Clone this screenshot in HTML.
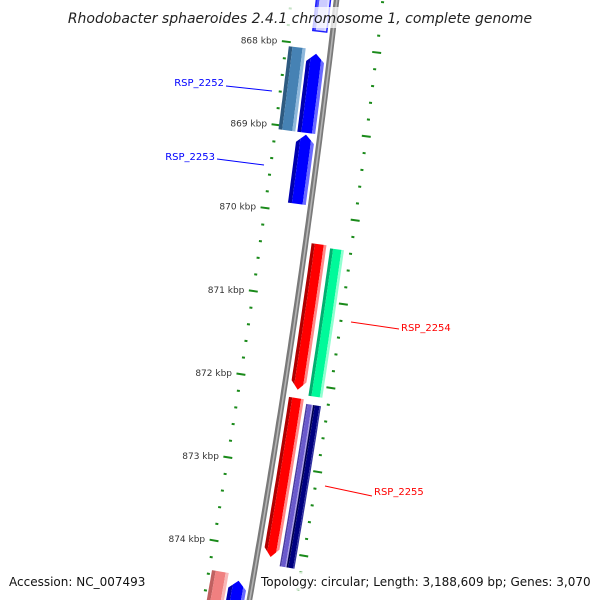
<!DOCTYPE html>
<html><head><meta charset="utf-8"><style>
html,body{margin:0;padding:0;background:#fff;width:600px;height:600px;overflow:hidden;}
svg{display:block;font-family:"DejaVu Sans","Liberation Sans",sans-serif;overflow:hidden;}
</style></head><body>
<svg id="map" width="600" height="600" viewBox="0 0 600 600" xmlns="http://www.w3.org/2000/svg">
<g id="layer"></g>
<rect x="70" y="7" width="460" height="21" fill="#fff" fill-opacity="0.75"/>
<text x="300" y="23" text-anchor="middle" font-size="14" font-style="italic" fill="#222">Rhodobacter sphaeroides 2.4.1 chromosome 1, complete genome</text>
<rect x="258" y="572" width="338" height="18" fill="#fff" fill-opacity="0.8"/>
<text x="9" y="586" font-size="12" fill="#111">Accession: NC_007493</text>
<text x="261" y="586" font-size="12" fill="#111">Topology: circular; Length: 3,188,609 bp; Genes: 3,070</text>
</svg>
<script>
// Data (kbp)
const majorTicks = [868, 869, 870, 871, 872, 873, 874];
const tickLabels = ["868 kbp","869 kbp","870 kbp","871 kbp","872 kbp","873 kbp","874 kbp"];
const geneNames  = ["top-gene","RSP_2252-a","RSP_2252","RSP_2253","RSP_2254","RSP_2254-b","RSP_2255","RSP_2255-b","RSP_2255-c","bottom-gene","bottom-arrow"];
const geneStart  = [867.2, 868.05, 868.1, 869.07, 870.34, 870.37, 872.18, 872.23, 872.23, 874.35, 874.42];
const geneEnd    = [867.83, 869.05, 869.05, 869.9, 872.08, 872.13, 874.08, 874.17, 874.17, 875.2, 875.2];
const geneLane   = [-1, -2, -1, -1, 1, 2, 1, 2, 3, -2, -1];
const geneStrand = [0, 0, -1, -1, 1, 0, 1, 0, 0, 0, -1];
const geneColor  = ["lav","steel","blue","blue","red","green","red","purple","navy","pink","blue"];
const labelNames = ["RSP_2252","RSP_2253","RSP_2254","RSP_2255"];
const labelColors = ["#0000ff","#0000ff","#ff0000","#ff0000"];

const NS = "http://www.w3.org/2000/svg";
const layer = document.getElementById("layer");
const BASE = 868;
function pos(k, r){
  const t = k - BASE;
  const bx = 331 - 10*t - 0.35*t*t, by = 47 + 83.5*t;
  const dx = -10 - 0.7*t, dy = 83.5, L = Math.hypot(dx, dy);
  return [bx + r*dy/L, by + r*(-dx)/L];
}
function el(tag, attrs){ const e = document.createElementNS(NS, tag); for (const k in attrs) e.setAttribute(k, attrs[k]); return e; }
function pts(arr){ return arr.map(p => p[0].toFixed(1)+","+p[1].toFixed(1)).join(" "); }

// backbone
{
  const a = [], b = [];
  for (let k = 867.3; k <= 874.8; k += 0.1){ a.push(pos(k, -2.8)); b.unshift(pos(k, 2.8)); }
  const p = el("polygon", {points: pts(a.concat(b)), fill: "#7a7a7a"});
  
  
  layer.appendChild(p);
  const c = [];
  for (let k = 867.3; k <= 874.8; k += 0.1) c.push(pos(k, 0.3));
  const l = el("polyline", {points: pts(c), fill: "none", stroke: "#b4b4b4", "stroke-width": 1.6});
  
  
  layer.appendChild(l);
}

// ticks
for (let k = 867.2; k <= 875.01; k += 0.2){
  const kk = Math.round(k*10)/10;
  const major = Math.abs(kk - Math.round(kk)) < 0.01;
  for (const side of [-1, 1]){
    const r = side < 0 ? -45 : 46;
    const half = major ? 4.5 : 1.5;
    const p1 = pos(kk, r - half), p2 = pos(kk, r + half);
    const ln = el("line", {x1:p1[0], y1:p1[1], x2:p2[0], y2:p2[1], stroke:"#1a8a1a", "stroke-width": 2});
    
    
    layer.appendChild(ln);
  }
}
majorTicks.forEach((k, i) => {
  const p = pos(k, -54);
  const tx = el("text", {x: p[0], y: p[1] + 3, "text-anchor": "end", "font-size": 9, fill: "#333"});
  tx.textContent = tickLabels[i];
  
  
  layer.appendChild(tx);
});

// genes
const palette = {
  lav:["#5050ff","#ccccff","#e0e0ff"], steel:["#2e5a80","#4682b4","#8fb8dc"],
  blue:["#0000b0","#0000ff","#6a6aff"], red:["#b00000","#ff0000","#ff8a8a"],
  green:["#00b070","#00fa9a","#90ffd0"], purple:["#4a3ca0","#6a5acd","#a89ce8"],
  navy:["#000050","#000080","#3030a0"], pink:["#c06060","#f08080","#f8b8b8"]
};
const laneR = {"-2":[-42,-25], "-1":[-23,-5], "1":[6,21], "2":[24,36], "3":[31,39]};
geneNames.forEach((name, i) => {
  let [r0, r1] = laneR[geneLane[i]];
  if (geneColor[i] === "purple") r1 = 31;
  if (geneColor[i] === "green") { r0 = 25; r1 = 39; }
  if (geneColor[i] === "lav") { r0 = -20; r1 = -6; }
  const s = geneStart[i], e = geneEnd[i], st = geneStrand[i], h = 0.1;
  const left = [], right = [];
  const a0 = st < 0 ? s + h : s, a1 = st > 0 ? e - h : e;
  for (let k = a0; k <= a1 + 1e-6; k += Math.max(0.02, (a1 - a0)/20)) { left.push(pos(k, r0)); right.unshift(pos(k, r1)); }
  left.push(pos(a1, r0)); right.unshift(pos(a1, r1));
  let poly;
  if (st > 0) poly = left.concat([pos(e, (r0+r1)/2)], right);
  else if (st < 0) poly = [pos(s, (r0+r1)/2)].concat(left, right);
  else poly = left.concat(right);
  const g = el("g", {});
  
  
  const cp = el("clipPath", {id: "cp" + i});
  cp.appendChild(el("polygon", {points: pts(poly)}));
  g.appendChild(cp);
  const cg = el("g", {"clip-path": "url(#cp" + i + ")"});
  const w = r1 - r0, cols = palette[geneColor[i]];
  const bands = [[r0 - 2, r0 + 0.22*w, cols[0]], [r0 + 0.22*w, r1 - 0.18*w, cols[1]], [r1 - 0.18*w, r1 + 2, cols[2]]];
  bands.forEach(b => {
    const L = [], R = [];
    for (let k = s - 0.05; k <= e + 0.05; k += 0.05) { L.push(pos(k, b[0])); R.unshift(pos(k, b[1])); }
    cg.appendChild(el("polygon", {points: pts(L.concat(R)), fill: b[2]}));
  });
  g.appendChild(cg);
  if (geneColor[i] === "lav") g.appendChild(el("polygon", {points: pts(poly), fill: "none", stroke: "#2020ff", "stroke-width": 1.5}));
  layer.appendChild(g);
});

// labels
const labelPos = [[224, 86, 226, 86, 272, 91], [215, 160, 217, 159, 264, 165], [401, 331, 399, 329, 351, 322], [374, 495, 372, 496, 325, 486]];
labelNames.forEach((n, i) => {
  const L = labelPos[i];
  const ln = el("line", {x1: L[2], y1: L[3], x2: L[4], y2: L[5], stroke: labelColors[i], "stroke-width": 1});
  
  
  layer.appendChild(ln);
  const tx = el("text", {x: L[0], y: L[1], "font-size": 10, fill: labelColors[i], "text-anchor": i < 2 ? "end" : "start"});
  tx.textContent = n;
  
  
  layer.appendChild(tx);
});
</script>
</body></html>
